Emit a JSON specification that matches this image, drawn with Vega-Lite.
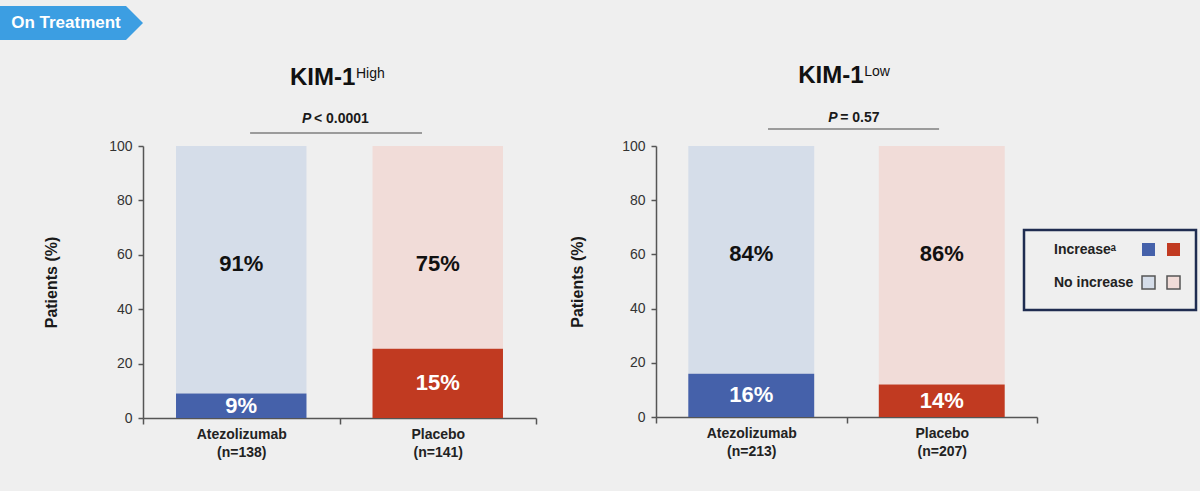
{
  "$schema": "https://vega.github.io/schema/vega-lite/v6.json",
  "background": "#efefef",
  "padding": {"left": 0, "top": 6, "right": 5, "bottom": 33},
  "config": {
    "view": {"stroke": null},
    "font": "Liberation Sans",
    "axis": {"grid": false, "domainColor": "#555555", "tickColor": "#555555", "domainWidth": 1.5, "tickWidth": 1.5, "labelColor": "#333333", "titleColor": "#1a1a1a"}
  },
  "spacing": 24,
  "vconcat": [
    {
      "width": 126,
      "height": 34,
      "view": {"fill": "#3c9ee2", "stroke": null},
      "data": {"values": [{"label": "On Treatment"}]},
      "layer": [
        {
          "mark": {"type": "point", "shape": "M0,-1L1,0L0,1Z", "size": 1156, "filled": true, "color": "#3c9ee2", "opacity": 1, "strokeWidth": 0},
          "encoding": {"x": {"datum": 1, "type": "quantitative", "scale": {"domain": [0, 1]}, "axis": null}}
        },
        {
          "mark": {"type": "text", "color": "#ffffff", "fontSize": 17, "fontWeight": "bold", "dx": 3},
          "encoding": {"text": {"field": "label"}}
        }
      ]
    },
    {
      "spacing": 32,
      "hconcat": [
        {
          "width": 11,
          "height": 10,
          "data": {"values": [{}]},
          "mark": {"type": "point", "opacity": 0}
        },
        {
          "width": 393,
          "height": 272,
          "data": {"values": [
            {"arm": "Atezolizumab (n=138)", "inc": 9, "incKey": "Atezolizumab increase", "noKey": "Atezolizumab no increase", "incLabel": "9%", "noLabel": "91%"},
            {"arm": "Placebo (n=141)", "inc": 25.5, "incKey": "Placebo increase", "noKey": "Placebo no increase", "incLabel": "15%", "noLabel": "75%"}
          ]},
          "resolve": {"scale": {"y": "independent"}},
          "layer": [
            {
              "mark": {"type": "bar", "width": {"band": 0.664}},
              "encoding": {
                "x": {"field": "arm", "type": "nominal", "scale": {"domain": ["Atezolizumab (n=138)", "Placebo (n=141)"], "paddingInner": 0, "paddingOuter": 0},
                  "axis": {"title": null, "labelExpr": "split(datum.label, ' ')", "labelAngle": 0, "labelFontSize": 14, "labelFontWeight": "bold", "labelColor": "#222222", "labelLineHeight": 18, "labelPadding": 3, "tickBand": "extent", "tickSize": 6}},
                "y": {"field": "inc", "type": "quantitative", "scale": {"domain": [0, 100]},
                  "axis": {"title": "Patients (%)", "values": [0, 20, 40, 60, 80, 100], "tickSize": 5, "labelPadding": 6, "labelFontSize": 14, "titleFontSize": 16, "titleFontWeight": "bold", "titlePadding": 49}},
                "y2": {"datum": 100},
                "color": {"field": "noKey", "type": "nominal",
                  "scale": {"domain": ["Increaseᵃ", "Atezolizumab increase", "Placebo increase", "No increase", "Atezolizumab no increase", "Placebo no increase"], "range": ["transparent", "#4561aa", "#c13a21", "transparent", "#d5dde9", "#f1dcd8"]},
                  "legend": {
                    "title": " ", "titleOrient": "bottom", "titleFontSize": 6, "titlePadding": 0,
                    "orient": "none", "legendX": 1024, "legendY": 224, "columns": 3, "direction": "horizontal",
                    "symbolType": "square", "symbolSize": 169, "labelFontSize": 14, "labelFontWeight": "bold", "labelColor": "#222222",
                    "labelOffset": 3, "columnPadding": 5, "rowPadding": 14, "padding": 12, "strokeColor": "#1f2c50",
                    "labelExpr": "(datum.label == 'Increaseᵃ' || datum.label == 'No increase') ? datum.label : ''",
                    "encode": {
                      "symbols": {"update": {"stroke": {"signal": "indexof(datum.value, 'no increase') > 0 ? '#555555' : 'transparent'"}, "strokeWidth": {"value": 1.5}}},
                      "legend": {"update": {"strokeWidth": {"value": 2.5}}}
                    }
                  }}
              }
            },
            {
              "mark": {"type": "bar", "width": {"band": 0.664}},
              "encoding": {
                "x": {"field": "arm", "type": "nominal"},
                "y": {"field": "inc", "type": "quantitative", "scale": {"domain": [0, 100]}, "axis": null},
                "color": {"field": "incKey", "type": "nominal"}
              }
            },
            {
              "mark": {"type": "text", "fontSize": 22, "fontWeight": "bold", "color": "#ffffff", "baseline": "middle"},
              "encoding": {
                "x": {"field": "arm", "type": "nominal"},
                "y": {"field": "inc", "type": "quantitative", "scale": {"domain": [0, 200]}, "axis": null},
                "text": {"field": "incLabel"}
              }
            },
            {
              "mark": {"type": "text", "fontSize": 22, "fontWeight": "bold", "color": "#111111", "baseline": "middle"},
              "encoding": {
                "x": {"field": "arm", "type": "nominal"},
                "y": {"datum": 56.5, "type": "quantitative", "scale": {"domain": [0, 100]}, "axis": null},
                "text": {"field": "noLabel"}
              }
            },
            {
              "data": {"values": [{"t": "KIM-1"}]},
              "mark": {"type": "text", "fontSize": 24, "fontWeight": "bold", "color": "#111111", "align": "left", "baseline": "alphabetic", "dx": -49.5},
              "encoding": {
                "x": {"datum": "Placebo (n=141)", "bandPosition": 0},
                "y": {"datum": 122.4, "type": "quantitative", "scale": {"domain": [0, 100]}, "axis": null},
                "text": {"field": "t"}
              }
            },
            {
              "data": {"values": [{"t": "High"}]},
              "mark": {"type": "text", "fontSize": 14, "color": "#111111", "align": "left", "baseline": "alphabetic", "dx": 16.5, "dy": -7},
              "encoding": {
                "x": {"datum": "Placebo (n=141)", "bandPosition": 0},
                "y": {"datum": 122.4, "type": "quantitative", "scale": {"domain": [0, 100]}, "axis": null},
                "text": {"field": "t"}
              }
            },
            {
              "data": {"values": [{"t": "P"}]},
              "mark": {"type": "text", "fontSize": 14, "fontWeight": "bold", "fontStyle": "italic", "color": "#1a1a1a", "align": "left", "baseline": "alphabetic", "dx": -37.5},
              "encoding": {
                "x": {"datum": "Placebo (n=141)", "bandPosition": 0},
                "y": {"datum": 108.5, "type": "quantitative", "scale": {"domain": [0, 100]}, "axis": null},
                "text": {"field": "t"}
              }
            },
            {
              "data": {"values": [{"t": "< 0.0001"}]},
              "mark": {"type": "text", "fontSize": 14, "fontWeight": "bold", "color": "#1a1a1a", "align": "left", "baseline": "alphabetic", "dx": -25.5},
              "encoding": {
                "x": {"datum": "Placebo (n=141)", "bandPosition": 0},
                "y": {"datum": 108.5, "type": "quantitative", "scale": {"domain": [0, 100]}, "axis": null},
                "text": {"field": "t"}
              }
            },
            {
              "data": {"values": [{}]},
              "mark": {"type": "rule", "color": "#7f7f7f", "strokeWidth": 1.5},
              "encoding": {
                "x": {"datum": "Atezolizumab (n=138)", "bandPosition": 0.545},
                "x2": {"datum": "Placebo (n=141)", "bandPosition": 0.42},
                "y": {"datum": 104.8, "type": "quantitative", "scale": {"domain": [0, 100]}, "axis": null}
              }
            }
          ]
        },
        {
          "width": 381,
          "height": 271,
          "data": {"values": [
            {"arm": "Atezolizumab (n=213)", "inc": 16, "incKey": "Atezolizumab increase", "noKey": "Atezolizumab no increase", "incLabel": "16%", "noLabel": "84%"},
            {"arm": "Placebo (n=207)", "inc": 12, "incKey": "Placebo increase", "noKey": "Placebo no increase", "incLabel": "14%", "noLabel": "86%"}
          ]},
          "resolve": {"scale": {"y": "independent"}},
          "layer": [
            {
              "mark": {"type": "bar", "width": {"band": 0.661}},
              "encoding": {
                "x": {"field": "arm", "type": "nominal", "scale": {"domain": ["Atezolizumab (n=213)", "Placebo (n=207)"], "paddingInner": 0, "paddingOuter": 0},
                  "axis": {"title": null, "labelExpr": "split(datum.label, ' ')", "labelAngle": 0, "labelFontSize": 14, "labelFontWeight": "bold", "labelColor": "#222222", "labelLineHeight": 18, "labelPadding": 3, "tickBand": "extent", "tickSize": 6}},
                "y": {"field": "inc", "type": "quantitative", "scale": {"domain": [0, 100]},
                  "axis": {"title": "Patients (%)", "values": [0, 20, 40, 60, 80, 100], "tickSize": 5, "labelPadding": 6, "labelFontSize": 14, "titleFontSize": 16, "titleFontWeight": "bold", "titlePadding": 36}},
                "y2": {"datum": 100},
                "color": {"field": "noKey", "type": "nominal"}
              }
            },
            {
              "mark": {"type": "bar", "width": {"band": 0.661}},
              "encoding": {
                "x": {"field": "arm", "type": "nominal"},
                "y": {"field": "inc", "type": "quantitative", "scale": {"domain": [0, 100]}, "axis": null},
                "color": {"field": "incKey", "type": "nominal"}
              }
            },
            {
              "mark": {"type": "text", "fontSize": 22, "fontWeight": "bold", "color": "#ffffff", "baseline": "middle"},
              "encoding": {
                "x": {"field": "arm", "type": "nominal"},
                "y": {"field": "inc", "type": "quantitative", "scale": {"domain": [0, 200]}, "axis": null},
                "text": {"field": "incLabel"}
              }
            },
            {
              "mark": {"type": "text", "fontSize": 22, "fontWeight": "bold", "color": "#111111", "baseline": "middle"},
              "encoding": {
                "x": {"field": "arm", "type": "nominal"},
                "y": {"datum": 60, "type": "quantitative", "scale": {"domain": [0, 100]}, "axis": null},
                "text": {"field": "noLabel"}
              }
            },
            {
              "data": {"values": [{"t": "KIM-1"}]},
              "mark": {"type": "text", "fontSize": 24, "fontWeight": "bold", "color": "#111111", "align": "left", "baseline": "alphabetic", "dx": -48.3},
              "encoding": {
                "x": {"datum": "Placebo (n=207)", "bandPosition": 0},
                "y": {"datum": 123.1, "type": "quantitative", "scale": {"domain": [0, 100]}, "axis": null},
                "text": {"field": "t"}
              }
            },
            {
              "data": {"values": [{"t": "Low"}]},
              "mark": {"type": "text", "fontSize": 14, "color": "#111111", "align": "left", "baseline": "alphabetic", "dx": 17.7, "dy": -7},
              "encoding": {
                "x": {"datum": "Placebo (n=207)", "bandPosition": 0},
                "y": {"datum": 123.1, "type": "quantitative", "scale": {"domain": [0, 100]}, "axis": null},
                "text": {"field": "t"}
              }
            },
            {
              "data": {"values": [{"t": "P"}]},
              "mark": {"type": "text", "fontSize": 14, "fontWeight": "bold", "fontStyle": "italic", "color": "#1a1a1a", "align": "left", "baseline": "alphabetic", "dx": -18.3},
              "encoding": {
                "x": {"datum": "Placebo (n=207)", "bandPosition": 0},
                "y": {"datum": 109, "type": "quantitative", "scale": {"domain": [0, 100]}, "axis": null},
                "text": {"field": "t"}
              }
            },
            {
              "data": {"values": [{"t": "= 0.57"}]},
              "mark": {"type": "text", "fontSize": 14, "fontWeight": "bold", "color": "#1a1a1a", "align": "left", "baseline": "alphabetic", "dx": -6.3},
              "encoding": {
                "x": {"datum": "Placebo (n=207)", "bandPosition": 0},
                "y": {"datum": 109, "type": "quantitative", "scale": {"domain": [0, 100]}, "axis": null},
                "text": {"field": "t"}
              }
            },
            {
              "data": {"values": [{}]},
              "mark": {"type": "rule", "color": "#7f7f7f", "strokeWidth": 1.5},
              "encoding": {
                "x": {"datum": "Atezolizumab (n=213)", "bandPosition": 0.588},
                "x2": {"datum": "Placebo (n=207)", "bandPosition": 0.486},
                "y": {"datum": 106.3, "type": "quantitative", "scale": {"domain": [0, 100]}, "axis": null}
              }
            }
          ]
        }
      ]
    }
  ]
}
